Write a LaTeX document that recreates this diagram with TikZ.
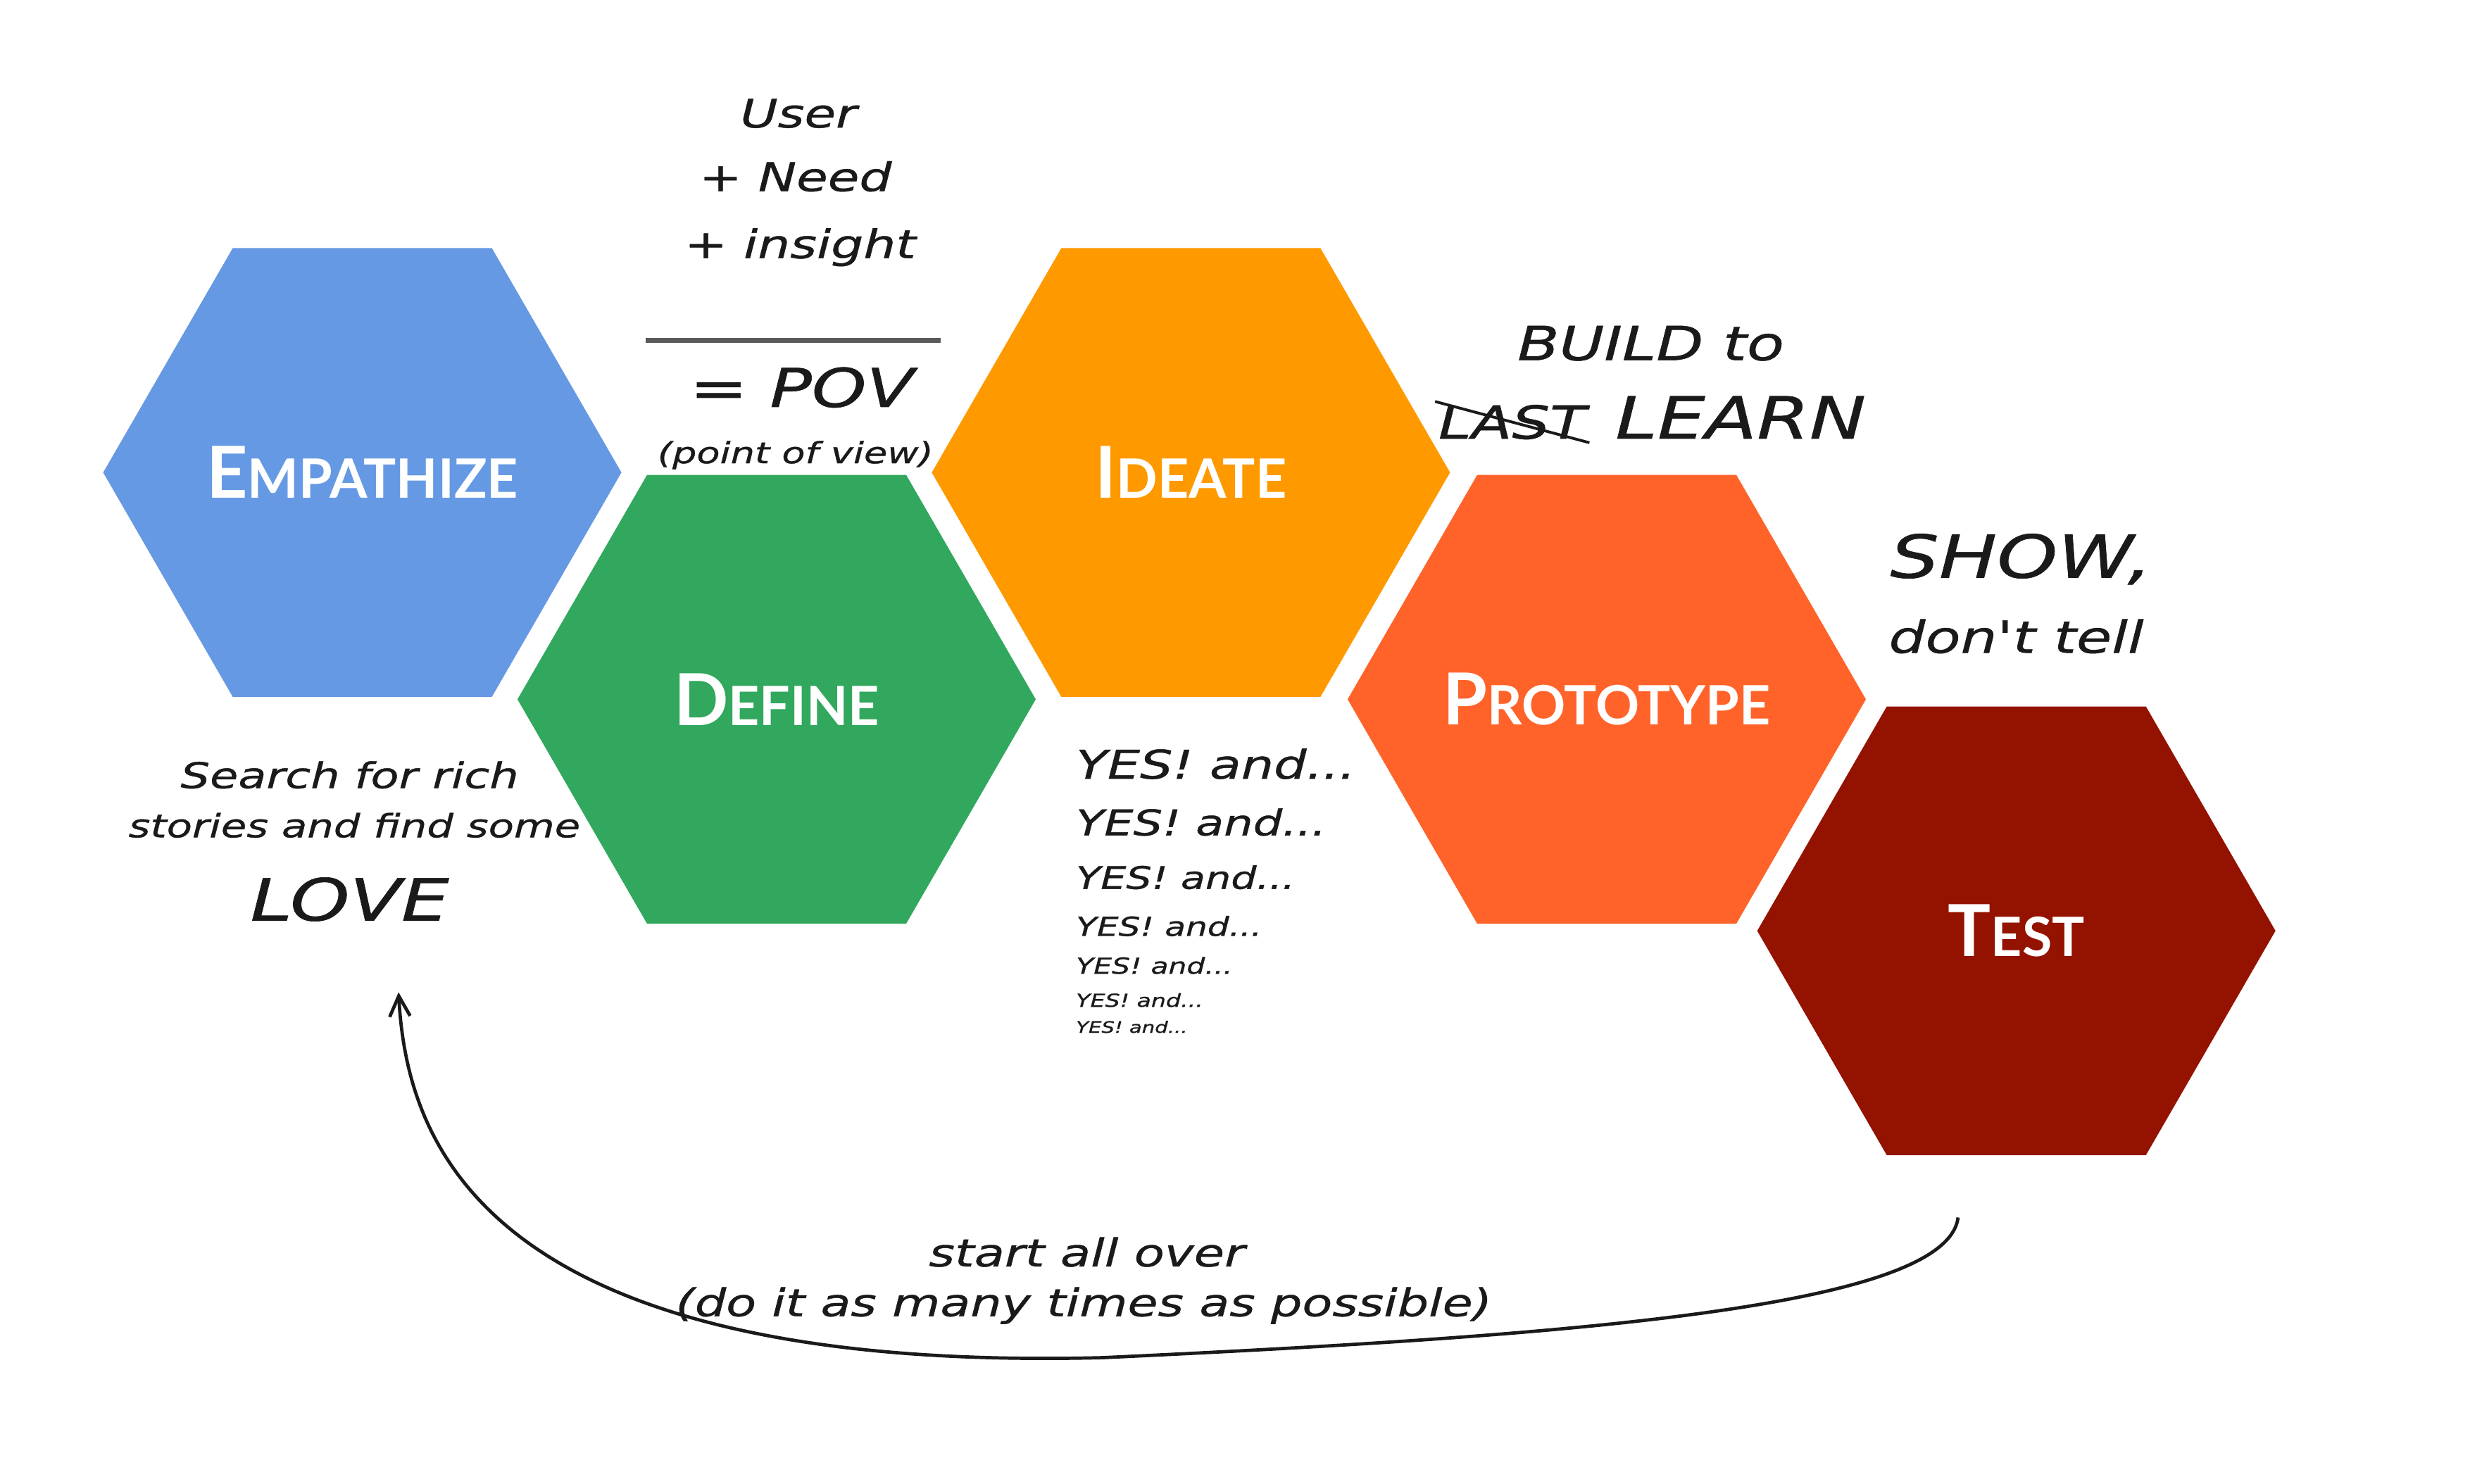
\documentclass[tikz,border=0pt]{standalone}
\usepackage{fontspec}
\usepackage{tikz}
\usetikzlibrary{arrows.meta,positioning,shapes.geometric,calc}
\newfontfamily\hexfont{Lato}
\newfontfamily\hand[FakeStretch=1.3,FakeBold=0.8]{DejaVu Sans}
\definecolor{dtblue}{HTML}{6699E3}
\definecolor{dtgreen}{HTML}{31A85E}
\definecolor{dtorange}{HTML}{FF9900}
\definecolor{dtcoral}{HTML}{FF6329}
\definecolor{dtmaroon}{HTML}{941200}
\definecolor{dtink}{HTML}{1A1A1A}
\newcommand{\fsz}[1]{\fontsize{#1}{#1}\selectfont}
\newcommand{\hexlabel}[2]{\makebox[0pt]{{\fsz{25.9}#1}{\fsz{19.6}#2}}}
\tikzset{
  hexa/.style={regular polygon,regular polygon sides=6,minimum size=65.8mm,inner sep=0pt,outer sep=0pt,text=white,font=\hexfont\bfseries},
  note/.style={text=dtink,inner sep=1pt,font=\hand\itshape\fsz{#1}},
  bar/.style={draw=black!65,line width=0.6mm},
  strike/.style={draw=dtink,line width=0.35mm},
  loop/.style={-{Straight Barb[length=2.6mm,width=2.6mm]},draw=dtink,line width=1.2pt},
}
\begin{document}
\begin{tikzpicture}[x=0.2mm,y=-0.2mm]
  \fill[white] (0,0) rectangle (1568,942);
  \useasboundingbox (0,0) rectangle (1568,942);
  % the five stages
  \node[hexa,fill=dtblue] (empathize) at (230,300) {\hexlabel{E}{MPATHIZE}};
  \node[hexa,fill=dtgreen] (define) at (493,444) {\hexlabel{D}{EFINE}};
  \node[hexa,fill=dtorange] (ideate) at (756,300) {\hexlabel{I}{DEATE}};
  \node[hexa,fill=dtcoral] (prototype) at (1020,444) {\hexlabel{P}{ROTOTYPE}};
  \node[hexa,fill=dtmaroon] (test) at (1280,591) {\hexlabel{T}{EST}};
  % point of view
  \node[note=14.2] (user) at (507,72) {User};
  \node[note=14.2] (need) at (505,112) {+ Need};
  \node[note=14.2] (insight) at (508,157) {+ insight};
  \coordinate (barl) at (410,216);
  \coordinate (barr) at (597,216);
  \draw[bar] (barl) -- (barr);
  \node[note=19.3] (pov) at (509,246) {= POV};
  \node[note=10.6] (povsub) at (505,289) {(point of view)};
  % prototype note
  \node[note=17] (build) at (1048,218) {BUILD to};
  \node[note=16.5] (last) at (960,268) {LAST};
  \node[note=21] (learn) at (1105,265) {LEARN};
  \draw[strike] (last.north west) -- (last.south east);
  % test note
  \node[note=21.4] (show) at (1283,355) {SHOW,};
  \node[note=16] (donttell) at (1280,404) {don't tell};
  % empathize note
  \node[note=12.8] (search) at (222,492) {Search for rich};
  \node[note=11.6] (stories) at (225,524) {stories and find some};
  \node[note=21] (love) at (222,571) {LOVE};
  % ideate note
  \foreach \yy/\fs [count=\i] in {485/14.3,522/12.8,557/11.2,588/9.5,613/8,635/6.5,652/5.7}
    \node[note=\fs,anchor=west] (yes\i) at (681,\yy) {YES! and...};
  % start over
  \node[note=13.8] (again) at (690,795) {start all over};
  \node[note=13.7] (possible) at (688,829) {(do it as many times as possible)};
  \coordinate (from) at (1243,773);
  \coordinate (back) at (253,630);
  \draw[loop] (from) .. controls (1236,830) and (1000,848) .. (700,862)
    .. controls (300,872) and (258,720) .. (back);
\end{tikzpicture}
\end{document}
